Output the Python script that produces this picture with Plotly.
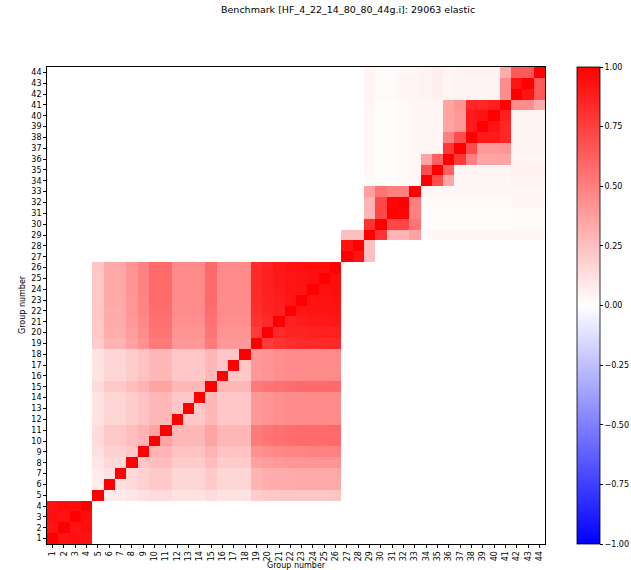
import numpy as np
import plotly.graph_objects as go

# Group labels 1..44
group_labels = [str(i) for i in range(1, 45)]

# Correlation values, lower triangle of each cluster (row i holds columns start..i).
# Cross-cluster correlations are zero.
block_a = [  # groups 1-4
    [1],
    [.93, 1],
    [.94, .93, 1],
    [.93, .95, .95, 1],
]

block_b = [  # groups 5-26
    [1],
    [.08, 1],
    [.08, .12, 1],
    [.10, .15, .15, 1],
    [.12, .18, .18, .22, 1],
    [.14, .21, .21, .26, .30, 1],
    [.14, .21, .21, .26, .30, .36, 1],
    [.11, .16, .16, .20, .24, .28, .28, 1],
    [.11, .16, .16, .20, .24, .28, .28, .22, 1],
    [.11, .16, .16, .20, .24, .28, .28, .22, .22, 1],
    [.14, .21, .21, .26, .30, .36, .36, .28, .28, .28, 1],
    [.11, .16, .16, .20, .24, .28, .28, .22, .22, .22, .28, 1],
    [.11, .16, .16, .20, .24, .28, .28, .22, .22, .22, .28, .22, 1],
    [.11, .16, .16, .20, .24, .28, .28, .22, .22, .22, .28, .22, .22, 1],
    [.20, .30, .30, .37, .43, .52, .52, .40, .40, .40, .52, .40, .40, .40, 1],
    [.21, .32, .32, .39, .45, .54, .54, .42, .42, .42, .54, .42, .42, .42, .77, 1],
    [.21, .33, .33, .40, .47, .56, .56, .44, .44, .44, .56, .44, .44, .44, .80, .84, 1],
    [.22, .33, .33, .41, .48, .57, .57, .45, .45, .45, .57, .45, .45, .45, .82, .86, .88, 1],
    [.22, .34, .34, .41, .48, .58, .58, .45, .45, .45, .58, .45, .45, .45, .83, .86, .89, .91, 1],
    [.22, .34, .34, .42, .49, .58, .58, .46, .46, .46, .58, .46, .46, .46, .83, .87, .90, .92, .93, 1],
    [.22, .34, .34, .42, .49, .58, .58, .46, .46, .46, .58, .46, .46, .46, .83, .87, .90, .92, .93, .94, 1],
    [.23, .34, .34, .42, .49, .59, .59, .46, .46, .46, .59, .46, .46, .46, .84, .88, .91, .93, .94, .95, .95, 1],
]

block_c = [  # groups 27-44
    [1],
    [.93, 1],
    [.25, .25, 1],
    [0, 0, .80, 1],
    [0, 0, .30, .72, 1],
    [0, 0, .30, .72, .98, 1],
    [0, 0, .37, .55, .50, .50, 1],
    [0, 0, .02, .01, .01, .02, .03, 1],
    [0, 0, .03, .01, .01, .02, .03, .70, 1],
    [0, 0, .03, .01, .01, .02, .03, .36, .62, 1],
    [0, 0, .03, .01, .01, .02, .03, .03, .04, .78, 1],
    [0, 0, .03, .01, .01, .02, .03, .03, .04, .50, .70, 1],
    [0, 0, .03, .01, .01, .02, .03, .03, .04, .36, .40, .90, 1],
    [0, 0, .03, .01, .01, .02, .03, .03, .04, .36, .40, .90, .93, 1],
    [0, 0, .03, .01, .01, .02, .03, .03, .04, .36, .42, .85, .85, .88, 1],
    [0, 0, .04, .02, .02, .03, .04, .05, .06, .04, .05, .05, .05, .05, .45, 1],
    [0, 0, .04, .02, .02, .03, .04, .05, .06, .04, .05, .05, .05, .05, .45, .92, 1],
    [0, 0, .04, .02, .02, .03, .04, .05, .06, .04, .05, .05, .05, .05, .33, .65, .65, 1],
]

colorbar_ticks = [1.0, 0.75, 0.5, 0.25, 0.0, -0.25, -0.5, -0.75, -1.0]

# Assemble the full symmetric matrix
n = len(group_labels)
corr = np.zeros((n, n))
start = 0
for block in (block_a, block_b, block_c):
    for i, row in enumerate(block):
        for j, v in enumerate(row):
            corr[start + i, start + j] = v
            corr[start + j, start + i] = v
    start += len(block)

groups = np.arange(1, n + 1)
FONT = "DejaVu Sans"

fig = go.Figure(
    go.Heatmap(
        z=corr,
        x=groups,
        y=groups,
        zmin=-1,
        zmax=1,
        colorscale=[[0, "rgb(0,0,255)"], [0.5, "rgb(255,255,255)"], [1, "rgb(255,0,0)"]],
        showscale=True,
        colorbar=dict(
            x=(577 - 47) / 498,
            xanchor="left",
            xpad=0,
            y=0.5,
            yanchor="middle",
            ypad=0,
            len=1.0,
            lenmode="fraction",
            thickness=23,
            thicknessmode="pixels",
            outlinewidth=0.8,
            outlinecolor="black",
            tickvals=colorbar_ticks,
            ticktext=[f"{t:.2f}".replace("-", "\u2212") for t in colorbar_ticks],
            ticks="outside",
            ticklen=3,
            tickwidth=0.8,
            tickcolor="black",
            tickfont=dict(family=FONT, size=8, color="black"),
        ),
        hoverongaps=False,
    )
)

fig.update_layout(
    width=631,
    height=570,
    margin=dict(l=47, r=86, t=67, b=26, autoexpand=False),
    paper_bgcolor="white",
    plot_bgcolor="white",
    font=dict(family=FONT, size=8, color="black"),
    showlegend=False,
    xaxis=dict(
        range=[0.5, n + 0.5],
        tickmode="array",
        tickvals=groups,
        ticktext=group_labels,
        tickangle=-90,
        ticks="outside",
        ticklen=3,
        tickwidth=0.8,
        tickcolor="black",
        tickfont=dict(family=FONT, size=8, color="black"),
        showgrid=False,
        zeroline=False,
        showline=True,
        linecolor="black",
        linewidth=0.8,
        mirror=True,
        automargin=False,
        constrain="domain",
    ),
    yaxis=dict(
        range=[0.5, n + 0.5],
        tickmode="array",
        tickvals=groups,
        ticktext=group_labels,
        ticks="outside",
        ticklen=3,
        tickwidth=0.8,
        tickcolor="black",
        tickfont=dict(family=FONT, size=8, color="black"),
        showgrid=False,
        zeroline=False,
        showline=True,
        linecolor="black",
        linewidth=0.8,
        mirror=True,
        automargin=False,
    ),
    annotations=[
        dict(
            text="Benchmark [HF_4_22_14_80_80_44g.i]: 29063 elastic",
            xref="paper", yref="paper",
            x=(348 - 47) / 498, y=(544 - 9) / 477,
            xanchor="center", yanchor="middle",
            showarrow=False,
            font=dict(family=FONT, size=9.5, color="black"),
        ),
        dict(
            text="Group number",
            xref="paper", yref="paper",
            x=0.5, y=(544 - 565) / 477,
            xanchor="center", yanchor="middle",
            showarrow=False,
            font=dict(family=FONT, size=8, color="black"),
        ),
        dict(
            text="Group number",
            xref="paper", yref="paper",
            x=(22 - 47) / 498, y=(544 - 305) / 477,
            xanchor="center", yanchor="middle",
            textangle=-90,
            showarrow=False,
            font=dict(family=FONT, size=8, color="black"),
        ),
    ],
)

fig.write_html("out.html")
